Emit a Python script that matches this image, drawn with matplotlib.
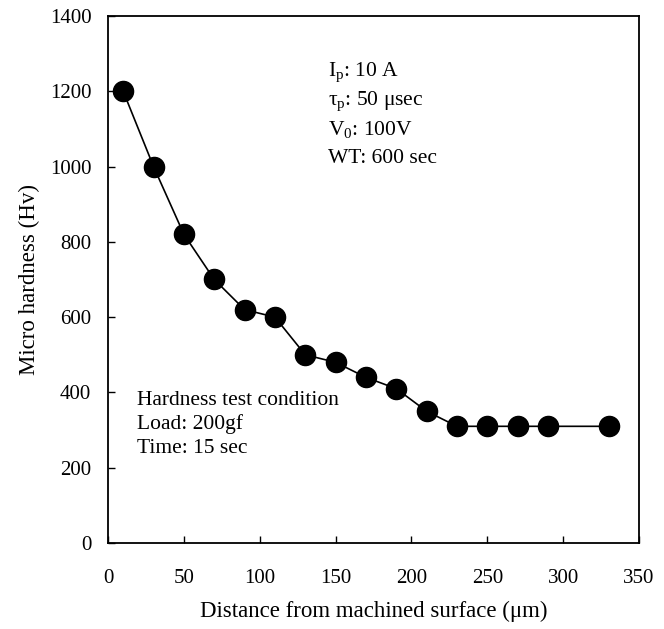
import matplotlib
matplotlib.use('Agg')
import matplotlib.pyplot as plt

# Micro hardness profile vs. distance from machined surface
distance_um = [10, 30, 50, 70, 90, 110, 130, 150, 170, 190, 210, 230, 250, 270, 290, 330]
hardness_hv = [1200, 1000, 820, 700, 620, 600, 500, 480, 440, 410, 350, 310, 310, 310, 310, 310]

x_ticks = [0, 50, 100, 150, 200, 250, 300, 350]
y_ticks = [0, 200, 400, 600, 800, 1000, 1200, 1400]

process_lines = [r'I$_{\rm p}$: 10 A', r'τ$_{\rm p}$: 50 μsec', r'V$_{\rm 0}$: 100V', 'WT: 600 sec']
test_lines = ['Hardness test condition', 'Load: 200gf', 'Time: 15 sec']

plt.rcParams['font.family'] = ['Liberation Serif', 'DejaVu Serif']
plt.rcParams['mathtext.fontset'] = 'custom'
plt.rcParams['mathtext.rm'] = 'Liberation Serif'
plt.rcParams['mathtext.it'] = 'Liberation Serif:italic'

fig = plt.figure(figsize=(6.64, 6.29), dpi=100)
ax = fig.add_axes([0.1627, 0.1367, 0.7997, 0.8379])

ax.plot(distance_um, hardness_hv, color='black', linewidth=1.2,
        marker='o', markersize=14.5, markerfacecolor='black', markeredgecolor='black')

ax.set_xlim(0, 350)
ax.set_ylim(0, 1400)
ax.set_xticks(x_ticks)
ax.set_yticks(y_ticks)
ax.tick_params(axis='both', direction='in', length=5, width=1, labelsize=15)
ax.tick_params(axis='x', pad=19)
ax.tick_params(axis='y', pad=12)
for s in ax.spines.values():
    s.set_linewidth(1.3)

ax.set_xlabel('Distance from machined surface (μm)', fontsize=16.5, labelpad=9)
ax.set_ylabel('Micro hardness (Hv)', fontsize=16.5, labelpad=7)

for i, line in enumerate(process_lines):
    ax.text(0.414, 0.894 - i * 0.055, line, transform=ax.transAxes,
            fontsize=15.5, va='center', ha='left')

for i, line in enumerate(test_lines):
    ax.text(0.0546, 0.271 - i * 0.0455, line, transform=ax.transAxes,
            fontsize=15.5, va='center', ha='left')

fig.savefig('out.png', dpi=100)
